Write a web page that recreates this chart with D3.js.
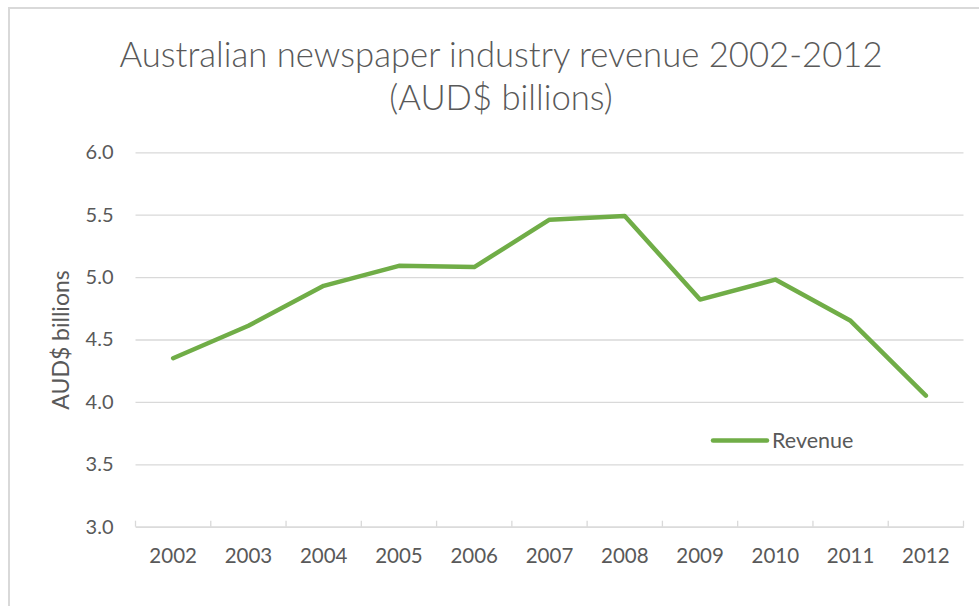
<!DOCTYPE html>
<html>
<head>
<meta charset="utf-8">
<script src="https://cdn.jsdelivr.net/npm/d3@7"></script>
<style>
  html, body { margin: 0; padding: 0; background: #fff; }
  svg { display: block; }
  text { font-family: Lato, "Open Sans", sans-serif; fill: #595959; }
</style>
</head>
<body>
<svg id="chart" width="979" height="606"></svg>
<script>
// Australian newspaper industry revenue, AUD$ billions
const years = ["2002", "2003", "2004", "2005", "2006", "2007", "2008", "2009", "2010", "2011", "2012"];
const revenue = [4.35, 4.61, 4.93, 5.09, 5.08, 5.46, 5.49, 4.82, 4.98, 4.65, 4.05];
const yTicks = [3.0, 3.5, 4.0, 4.5, 5.0, 5.5, 6.0];
const seriesName = "Revenue";
const titleLines = ["Australian newspaper industry revenue 2002-2012", "(AUD$ billions)"];
const yAxisTitle = "AUD$ billions";

const W = 979, H = 606;
const plot = { left: 135.5, right: 963.5, top: 152.3, bottom: 526.7 };
const green = "#70AD47";
const gridColor = "#d9d9d9";

const svg = d3.select("#chart");

// chart area border
svg.append("rect")
  .attr("x", 9).attr("y", 8)
  .attr("width", W).attr("height", H)
  .attr("fill", "#fff")
  .attr("stroke", gridColor)
  .attr("stroke-width", 2);

const x = d3.scaleBand().domain(years).range([plot.left, plot.right]).padding(0);
const y = d3.scaleLinear().domain([3, 6]).range([plot.bottom, plot.top]);

// horizontal gridlines and value labels
const yAxis = svg.append("g")
  .attr("transform", `translate(${plot.left},0)`)
  .call(d3.axisLeft(y).tickValues(yTicks).tickFormat(d3.format(".1f"))
    .tickSize(-(plot.right - plot.left)).tickPadding(22));
yAxis.select(".domain").remove();
yAxis.selectAll(".tick line")
  .attr("stroke", gridColor).attr("stroke-width", 1.3);
yAxis.selectAll(".tick text")
  .attr("font-size", 20).style("fill", "#595959");

// category axis
const xAxis = svg.append("g")
  .attr("transform", `translate(0,${plot.bottom})`)
  .call(d3.axisBottom(x).tickSize(0).tickPadding(22));
xAxis.select(".domain").attr("stroke", gridColor).attr("stroke-width", 1.3);
xAxis.selectAll(".tick text")
  .attr("font-size", 20.5).style("fill", "#595959");

// tick marks between categories, pointing up into the plot
const boundaries = years.map(d => x(d)).concat([x(years[years.length - 1]) + x.bandwidth()]);
svg.append("g").selectAll("line")
  .data(boundaries)
  .join("line")
  .attr("x1", d => d).attr("x2", d => d)
  .attr("y1", plot.bottom).attr("y2", plot.bottom - 6)
  .attr("stroke", gridColor).attr("stroke-width", 1.3);

// revenue line
const line = d3.line()
  .x((d, i) => x(years[i]) + x.bandwidth() / 2)
  .y(d => y(d));
svg.append("path")
  .datum(revenue)
  .attr("d", line)
  .attr("fill", "none")
  .attr("stroke", green)
  .attr("stroke-width", 4.5)
  .attr("stroke-linejoin", "round")
  .attr("stroke-linecap", "round");

// title
svg.append("g").selectAll("text")
  .data(titleLines)
  .join("text")
  .attr("x", 501).attr("y", (d, i) => 67 + i * 43)
  .attr("text-anchor", "middle")
  .attr("font-size", 34.7)
  .attr("font-weight", 300)
  .text(d => d);

// value axis title
svg.append("text")
  .attr("transform", `translate(69,340) rotate(-90)`)
  .attr("text-anchor", "middle")
  .attr("font-size", 23)
  .text(yAxisTitle);

// legend
const legend = svg.append("g").attr("transform", "translate(713,440.5)");
legend.append("line")
  .attr("x1", 0).attr("x2", 54).attr("y1", 0).attr("y2", 0)
  .attr("stroke", green).attr("stroke-width", 4.5).attr("stroke-linecap", "round");
legend.append("text")
  .attr("x", 59).attr("y", 0).attr("dy", "0.35em")
  .attr("font-size", 21.5)
  .text(seriesName);
</script>
</body>
</html>
